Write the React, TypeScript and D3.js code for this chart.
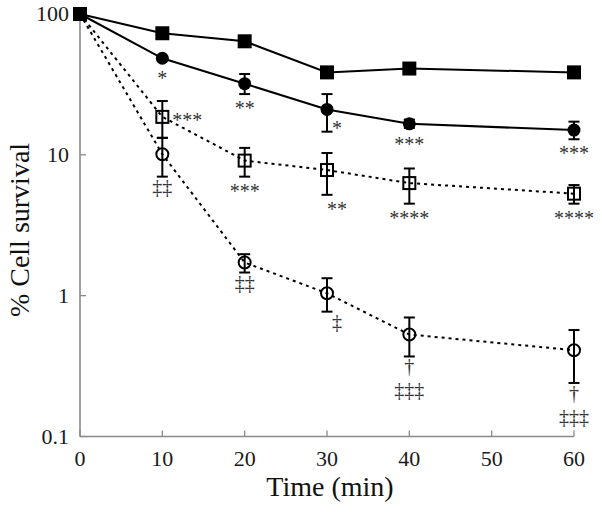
import React from "react";
import * as d3 from "d3";

// ---- data ----
const times = [0, 10, 20, 30, 40, 60];

const filledSquareMean = [100, 73, 64, 38.5, 41, 38.5];
const filledSquareLo = [100, 73, 64, 38.5, 41, 38.5];
const filledSquareHi = [100, 73, 64, 38.5, 41, 38.5];
const filledSquareNotes = ["", "", "", "", "", ""];
const filledSquarePlace = ["", "", "", "", "", ""];

const filledCircleMean = [100, 48.5, 32, 21, 16.6, 15.0];
const filledCircleLo = [100, 48.5, 27, 14.6, 15.5, 12.9];
const filledCircleHi = [100, 48.5, 37.5, 27, 17.8, 17.2];
const filledCircleNotes = ["", "*", "**", "*", "***", "***"];
const filledCirclePlace = ["", "below", "below", "rightLow", "below", "below"];

const openSquareMean = [100, 18.6, 9.1, 7.8, 6.3, 5.3];
const openSquareLo = [100, 13.2, 7.0, 5.2, 4.5, 4.5];
const openSquareHi = [100, 24.1, 11.2, 10.3, 8.0, 6.1];
const openSquareNotes = ["", "***", "***", "**", "****", "****"];
const openSquarePlace = ["", "right", "below", "belowRight", "below", "below"];

const openCircleMean = [100, 10.1, 1.72, 1.04, 0.53, 0.41];
const openCircleLo = [100, 7.0, 1.46, 0.77, 0.37, 0.24];
const openCircleHi = [100, 13.2, 1.97, 1.33, 0.70, 0.57];
const openCircleNotes = ["", "‡‡", "‡‡", "‡", "†|‡‡‡", "†|‡‡‡"];
const openCirclePlace = ["", "below", "below", "belowRight", "below", "below"];

const xTicks = [0, 10, 20, 30, 40, 50, 60];
const yTicks = [0.1, 1, 10, 100];
const xTitle = "Time (min)";
const yTitle = "% Cell survival";

type Series = {
  mean: number[];
  lo: number[];
  hi: number[];
  notes: string[];
  place: string[];
  marker: "fsq" | "fci" | "osq" | "oci";
  dashed: boolean;
};

const series: Series[] = [
  { mean: openCircleMean, lo: openCircleLo, hi: openCircleHi, notes: openCircleNotes, place: openCirclePlace, marker: "oci", dashed: true },
  { mean: openSquareMean, lo: openSquareLo, hi: openSquareHi, notes: openSquareNotes, place: openSquarePlace, marker: "osq", dashed: true },
  { mean: filledCircleMean, lo: filledCircleLo, hi: filledCircleHi, notes: filledCircleNotes, place: filledCirclePlace, marker: "fci", dashed: false },
  { mean: filledSquareMean, lo: filledSquareLo, hi: filledSquareHi, notes: filledSquareNotes, place: filledSquarePlace, marker: "fsq", dashed: false },
];

const W = 602;
const H = 512;
const FONT = "Liberation Serif, Times New Roman, serif";
const AXIS = "#8a8a8a";

export default function App() {
  const x = d3.scaleLinear().domain([0, 60]).range([80, 574]);
  const y = d3.scaleLog().domain([0.1, 100]).range([436.5, 14]);
  const x0 = x(0);
  const y0 = y(0.1);

  const line = d3
    .line<number>()
    .x((_, i) => x(times[i]))
    .y((d) => y(d));

  const renderMarker = (s: Series, i: number) => {
    const cx = x(times[i]);
    const cy = y(s.mean[i]);
    switch (s.marker) {
      case "fsq":
        return <rect key={i} x={cx - 7} y={cy - 7} width={14} height={14} fill="#000" />;
      case "fci":
        return <circle key={i} cx={cx} cy={cy} r={6.5} fill="#000" />;
      case "osq":
        return <rect key={i} x={cx - 6} y={cy - 6} width={12} height={12} fill="none" stroke="#000" strokeWidth={2} />;
      default:
        return <circle key={i} cx={cx} cy={cy} r={6} fill="none" stroke="#000" strokeWidth={2} />;
    }
  };

  const baseOff = (t: string) => (/[†‡]/.test(t) ? 5 : 10);

  const renderNote = (s: Series, i: number) => {
    const txt = s.notes[i];
    if (!txt) return null;
    const px = x(times[i]);
    const py = y(s.mean[i]);
    const bottom = Math.max(py + 6, y(s.lo[i]));
    const lines = txt.split("|");
    const place = s.place[i];
    const gap = /[†‡]/.test(txt) ? 12 : 11;
    if (place === "right") {
      return (
        <text key={"n" + i} x={px + 10} y={py + baseOff(lines[0])} fontSize={20} fontFamily={FONT} textAnchor="start" fill="#333">
          {lines[0]}
        </text>
      );
    }
    let cx = px;
    let cy = bottom + gap;
    if (place === "belowRight") cx = px + 10;
    if (place === "rightLow") {
      cx = px + 10;
      cy = py + 16;
    }
    return (
      <g key={"n" + i}>
        {lines.map((t, k) => (
          <text key={k} x={cx} y={cy + k * 24 + baseOff(t)} fontSize={20} fontFamily={FONT} textAnchor="middle" fill="#333">
            {t}
          </text>
        ))}
      </g>
    );
  };

  return (
    <svg width={W} height={H} style={{ position: "absolute", left: 0, top: 0, background: "#fff" }}>
      <rect width={W} height={H} fill="#fff" />

      {/* axes */}
      <g>
        <line x1={x0} x2={x(60)} y1={y0} y2={y0} stroke={AXIS} strokeWidth={1.6} />
        <line x1={x0} x2={x0} y1={y(100)} y2={y0} stroke={AXIS} strokeWidth={1.6} />
        {xTicks.map((t) => (
          <g key={"xt" + t}>
            <line x1={x(t)} x2={x(t)} y1={y0} y2={y0 - 6} stroke={AXIS} strokeWidth={1.3} />
            <text x={x(t)} y={466} textAnchor="middle" fontSize={22} fontFamily={FONT} fill="#1a1a1a">
              {String(t)}
            </text>
          </g>
        ))}
        {yTicks.map((t) => (
          <g key={"yt" + t}>
            <line x1={x0} x2={x0 + 6} y1={y(t)} y2={y(t)} stroke={AXIS} strokeWidth={1.3} />
            <text x={x0 - 11} y={y(t)} dy="0.34em" textAnchor="end" fontSize={22} fontFamily={FONT} fill="#1a1a1a">
              {String(t)}
            </text>
          </g>
        ))}
      </g>

      {series.map((s, si) => (
        <path
          key={"l" + si}
          d={line(s.mean) || ""}
          fill="none"
          stroke="#000"
          strokeWidth={2}
          strokeDasharray={s.dashed ? "3,4" : undefined}
        />
      ))}

      {series.map((s, si) => (
        <g key={"e" + si} stroke="#000" strokeWidth={2}>
          {s.mean.map((m, i) => {
            if (s.lo[i] === s.hi[i]) return null;
            const cx = x(times[i]);
            return (
              <g key={i}>
                <line x1={cx} x2={cx} y1={y(s.lo[i])} y2={y(s.hi[i])} />
                <line x1={cx - 5.5} x2={cx + 5.5} y1={y(s.lo[i])} y2={y(s.lo[i])} />
                <line x1={cx - 5.5} x2={cx + 5.5} y1={y(s.hi[i])} y2={y(s.hi[i])} />
              </g>
            );
          })}
        </g>
      ))}

      {series.map((s, si) => (
        <g key={"m" + si}>{s.mean.map((_, i) => renderMarker(s, i))}</g>
      ))}

      {series.map((s, si) => (
        <g key={"t" + si}>{s.mean.map((_, i) => renderNote(s, i))}</g>
      ))}

      <text x={330} y={496} textAnchor="middle" fontSize={28} fontFamily={FONT} fill="#111">
        {xTitle}
      </text>
      <text transform={`translate(29,230) rotate(-90)`} textAnchor="middle" fontSize={28} fontFamily={FONT} fill="#111">
        {yTitle}
      </text>
    </svg>
  );
}
